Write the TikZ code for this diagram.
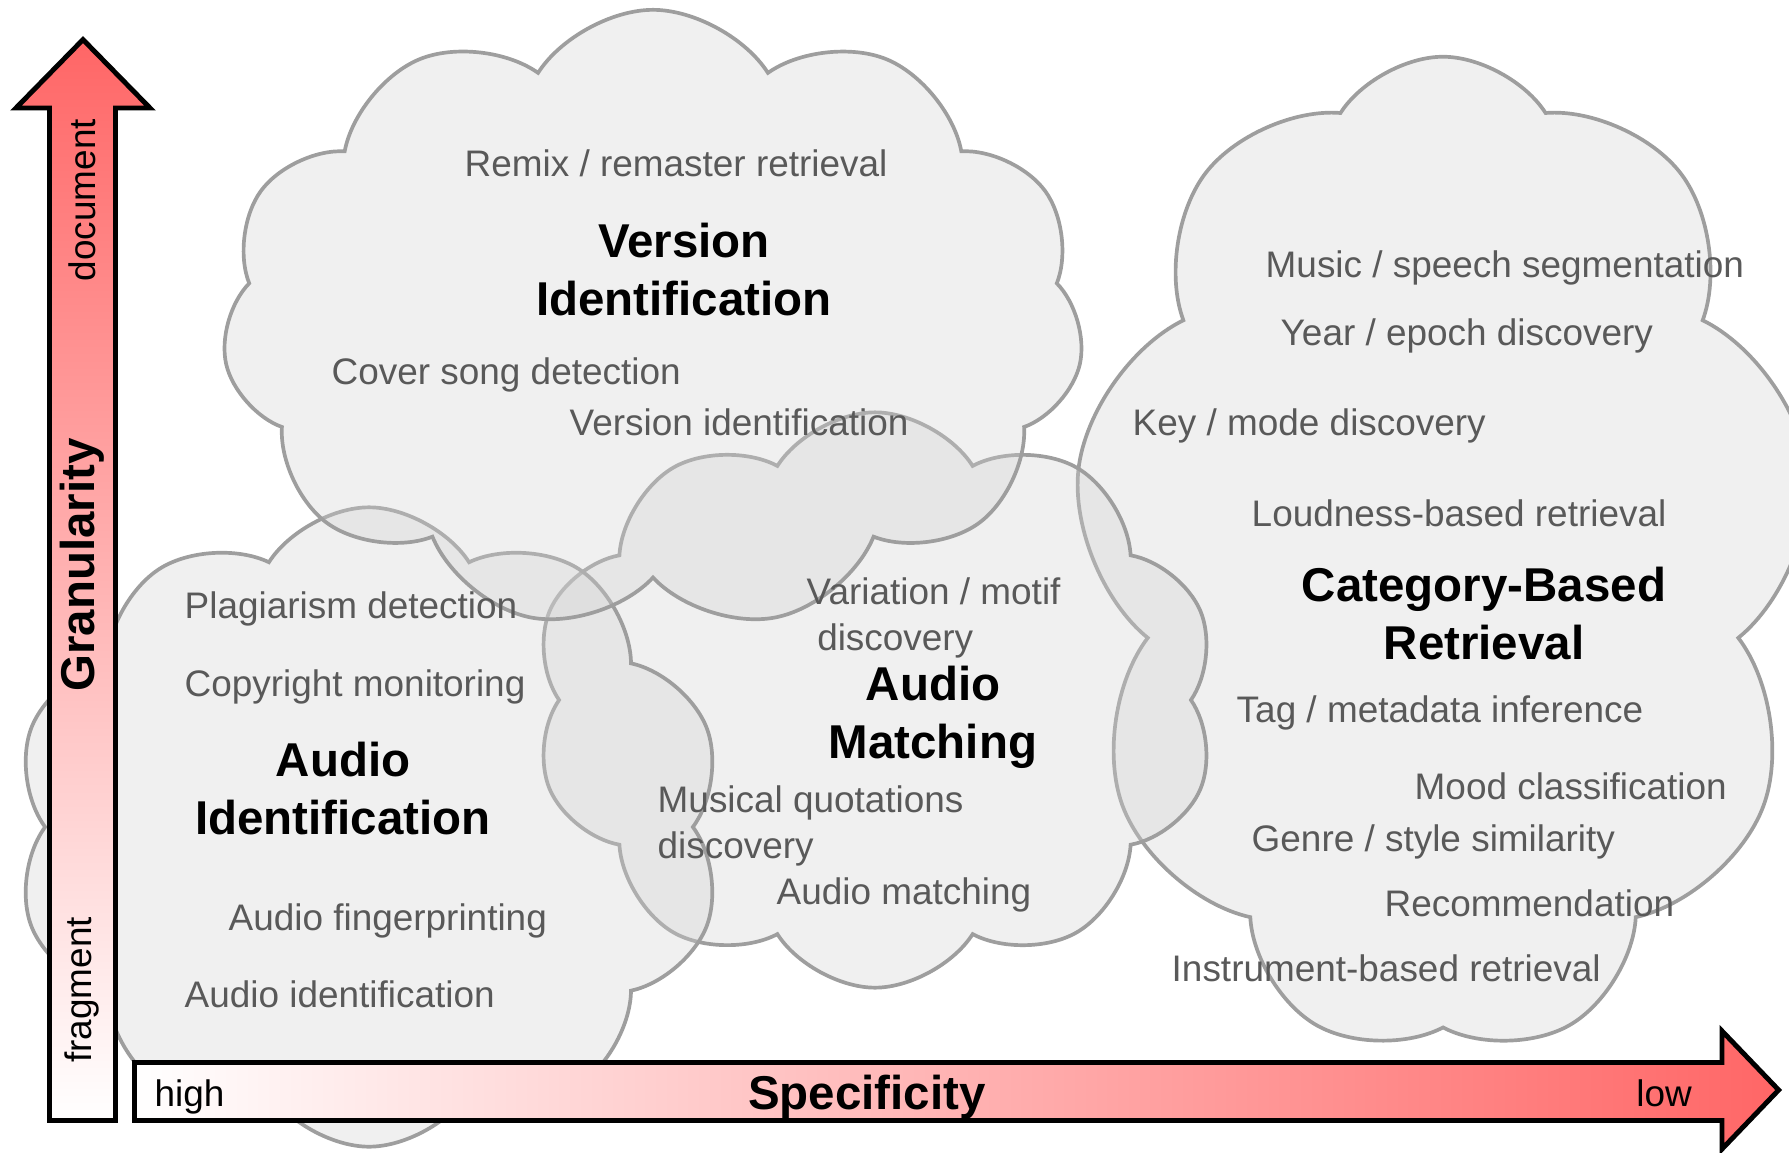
\documentclass[tikz,border=0pt]{standalone}
\usepackage{fontspec}
\setmainfont{Liberation Sans}
\usetikzlibrary{shapes.symbols}

\begin{document}
\begin{tikzpicture}[
  x=0.01cm, y=-0.01cm,
  cloudbox/.style={cloud, cloud puffs=#1, cloud puff arc=115, aspect=1, inner sep=0pt,
    draw=black!38, line width=1.05pt, fill=black!18, fill opacity=0.33},
  task/.style={anchor=west, inner sep=0pt, align=left, text=black!65,
    font=\fontsize{10.5}{13}\selectfont},
  title/.style={inner sep=0pt, align=center, font=\fontsize{13.5}{16.5}\selectfont\bfseries},
  axislabel/.style={inner sep=0pt, font=\fontsize{10.5}{13}\selectfont},
  axisarrow/.style={draw, line width=1.4pt, line join=miter}
]
  \useasboundingbox (0,0) rectangle (1789,1152);
  \clip (0,0) rectangle (1789,1152);

  \node[cloudbox=9, minimum width=7.4cm, minimum height=9.98cm] (catCloud) at (1443,556) {};
  \node[cloudbox=10, minimum width=6.84cm, minimum height=5.75cm] (matchCloud) at (875,700) {};
  \node[cloudbox=10, minimum width=7.1cm, minimum height=6.39cm] (audioCloud) at (369,827) {};
  \node[cloudbox=11, minimum width=8.62cm, minimum height=6.2cm] (versionCloud) at (653,320) {};

  \node[task] (remix) at (464,163) {Remix / remaster retrieval};
  \node[title] (versionTitle) at (684,270) {Version\\Identification};
  \node[task] (cover) at (331,375) {Cover song detection};
  \node[task] (versionId) at (569,422) {Version identification};

  \node[task] (plagiarism) at (184,609) {Plagiarism detection};
  \node[task] (copyright) at (184,687) {Copyright monitoring};
  \node[title] (audioTitle) at (343,789) {Audio\\Identification};
  \node[task] (fingerprint) at (228,921) {Audio fingerprinting};
  \node[task] (audioId) at (184,994) {Audio identification};

  \node[task] (variation) at (806,618) {Variation / motif\\\hspace*{3pt}discovery};
  \node[title] (matchTitle) at (933,717) {Audio\\Matching};
  \node[task] (quotations) at (657,826) {Musical quotations\\discovery};
  \node[task] (audioMatch) at (776,895) {Audio matching};

  \node[task] (music) at (1265,268) {Music / speech segmentation};
  \node[task] (year) at (1280,336) {Year / epoch discovery};
  \node[task] (key) at (1132,426) {Key / mode discovery};
  \node[task] (loudness) at (1251,513) {Loudness-based retrieval};
  \node[title] (catTitle) at (1484,614) {Category-Based\\Retrieval};
  \node[task] (tag) at (1236,713) {Tag / metadata inference};
  \node[task] (mood) at (1414,786) {Mood classification};
  \node[task] (genre) at (1251,842) {Genre / style similarity};
  \node[task] (recommend) at (1384,903) {Recommendation};
  \node[task] (instrument) at (1171,968) {Instrument-based retrieval};

  \path[axisarrow, top color=red!60, bottom color=white]
    (49.5,1120.5) -- (49.5,108) -- (16,108) -- (83,39.6) -- (150,108) -- (115.5,108) -- (115.5,1120.5) -- cycle;
  \path[axisarrow, left color=white, right color=red!60]
    (134.5,1062.5) -- (1722,1062.5) -- (1722,1031) -- (1778.6,1090) -- (1722,1149) -- (1722,1120.5) -- (134.5,1120.5) -- cycle;

  \node[axislabel, rotate=90] (docLabel) at (82,200) {document};
  \node[axislabel, rotate=90, font=\fontsize{13.5}{16.5}\selectfont\bfseries] (granLabel) at (82,565) {Granularity};
  \node[axislabel, rotate=90] (fragLabel) at (82,990) {fragment};
  \node[axislabel, anchor=west] (highLabel) at (154,1097) {high};
  \node[axislabel, font=\fontsize{13.5}{16.5}\selectfont\bfseries] (specLabel) at (867,1097) {Specificity};
  \node[axislabel] (lowLabel) at (1664,1093) {low};
\end{tikzpicture}
\end{document}
